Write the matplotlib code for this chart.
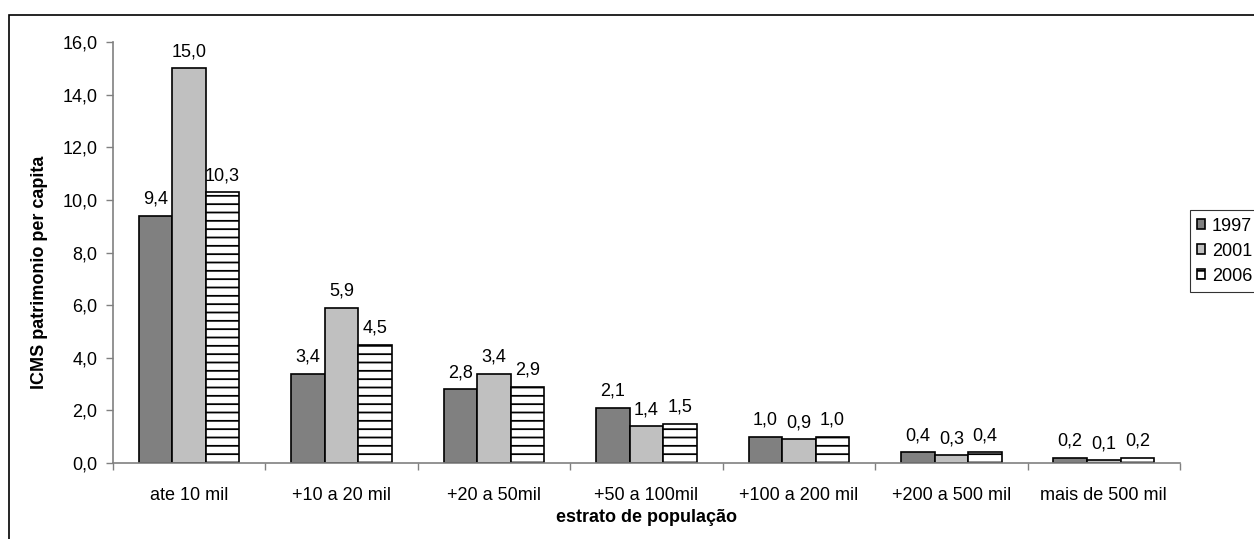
import numpy as np
import matplotlib
matplotlib.use("Agg")
import matplotlib.pyplot as plt
from matplotlib.patches import Rectangle

plt.rcParams['font.family'] = ['Liberation Sans', 'DejaVu Sans']
plt.rcParams['hatch.linewidth'] = 1.3

strata = ['ate 10 mil', '+10 a 20 mil', '+20 a 50mil', '+50 a 100mil',
          '+100 a 200 mil', '+200 a 500 mil', 'mais de 500 mil']
years = ['1997', '2001', '2006']
v1997 = [9.4, 3.4, 2.8, 2.1, 1.0, 0.4, 0.2]
v2001 = [15.0, 5.9, 3.4, 1.4, 0.9, 0.3, 0.1]
v2006 = [10.3, 4.5, 2.9, 1.5, 1.0, 0.4, 0.2]

FS = 13

fig = plt.figure(figsize=(12.54, 5.39), dpi=100)
ax = fig.add_axes([0.090, 0.141, 0.851, 0.781])

x = np.arange(len(strata))
w = 0.22
styles = [dict(color='#808080', hatch=None),
          dict(color='#c0c0c0', hatch=None),
          dict(color='white', hatch='--')]
series = [v1997, v2001, v2006]
for k, (vals, st, yr) in enumerate(zip(series, styles, years)):
    pos = x + (k - 1) * w
    ax.bar(pos, vals, width=w, color=st['color'], hatch=st['hatch'],
           edgecolor='black', linewidth=1.2, label=yr, zorder=2)
    for px, v in zip(pos, vals):
        ax.text(px, v + 0.3, f'{v:.1f}'.replace('.', ','), ha='center',
                va='bottom', fontsize=FS)

ax.set_xlim(-0.5, len(strata) - 0.5)
ax.set_ylim(0, 16)
ax.set_yticks(np.arange(0, 17, 2))
ax.set_yticklabels([f'{t:.1f}'.replace('.', ',') for t in np.arange(0, 17, 2)])
ax.set_xticks(x)
ax.set_xticklabels(strata)
ax.set_xticks(np.arange(-0.5, len(strata), 1), minor=True)
ax.tick_params(axis='x', which='major', length=0, pad=17, labelsize=FS)
ax.tick_params(axis='x', which='minor', length=5, color='#808080', width=1)
ax.tick_params(axis='y', length=5, color='#808080', width=1, labelsize=FS, pad=6)

for s in ['top', 'right']:
    ax.spines[s].set_visible(False)
for s in ['left', 'bottom']:
    ax.spines[s].set_color('#808080')
    ax.spines[s].set_linewidth(1.2)

fig.text(40 / 1254, 1 - 272 / 539, 'ICMS patrimonio per capita', rotation=90,
         ha='center', va='center', fontsize=FS, fontweight='bold')
fig.text(0.5 * (113 + 1180) / 1254, 1 - 518 / 539, 'estrato de população',
         ha='center', va='center', fontsize=FS, fontweight='bold')

leg = fig.legend(loc='lower left', bbox_to_anchor=(1190 / 1254, 1 - 292 / 539),
                 fontsize=FS, frameon=True, fancybox=False, handlelength=0.45,
                 handleheight=0.45, handletextpad=0.35, borderpad=0.4,
                 labelspacing=0.45, borderaxespad=0)
leg.get_frame().set_edgecolor('black')
leg.get_frame().set_linewidth(0.8)

# outer chart frame
fig.patches.append(Rectangle((9 / 1254, -0.1), 1.2, 1.1 - 15 / 539,
                             transform=fig.transFigure, fill=False,
                             edgecolor='black', linewidth=1.2))

fig.savefig('out.png', dpi=100)
